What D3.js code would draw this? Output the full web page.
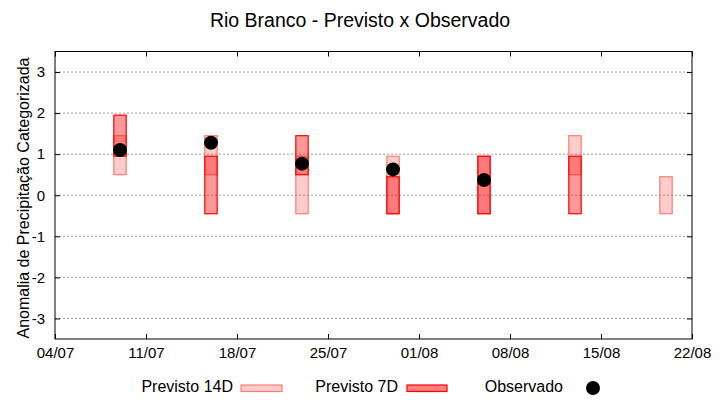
<!DOCTYPE html>
<html>
<head>
<meta charset="utf-8">
<script src="https://cdn.jsdelivr.net/npm/d3@7"></script>
<style>
  body { margin: 0; background: #fff; }
  svg { font-family: "Liberation Sans", Arial, sans-serif; }
</style>
</head>
<body>
<div id="chart"></div>
<script>
// semanas de previsao (dia/mes)
const weeks = ['09/07', '16/07', '23/07', '30/07', '06/08', '13/08', '20/08'];
const prev14Lo = [0.5, 0.5, -0.45, -0.45, -0.45, 0.5, -0.45];
const prev14Hi = [1.45, 1.45, 0.95, 0.95, 0.95, 1.45, 0.45];
const prev7Lo = [0.95, -0.45, 0.5, -0.45, -0.45, -0.45, null];
const prev7Hi = [1.95, 0.95, 1.45, 0.45, 0.95, 0.95, null];
const observed = [1.1, 1.28, 0.77, 0.63, 0.37, null, null];
const xTicks = ['04/07', '11/07', '18/07', '25/07', '01/08', '08/08', '15/08', '22/08'];
const yTicks = [-3, -2, -1, 0, 1, 2, 3];

const width = 720;
const height = 400;
const margin = { top: 51.5, right: 28, bottom: 61, left: 55 };
const parse = d3.timeParse('%d/%m');
const fmt = d3.timeFormat('%d/%m');

const svg = d3.select('#chart').append('svg')
  .attr('width', width)
  .attr('height', height);

const x = d3.scaleTime()
  .domain([parse(xTicks[0]), parse(xTicks[xTicks.length - 1])])
  .range([margin.left, width - margin.right]);
const y = d3.scaleLinear()
  .domain([-3.5, 3.5])
  .range([height - margin.bottom, margin.top]);

// grade horizontal
svg.append('g')
  .selectAll('line')
  .data(yTicks)
  .enter()
  .append('line')
  .attr('x1', margin.left)
  .attr('x2', width - margin.right)
  .attr('y1', d => y(d))
  .attr('y2', d => y(d))
  .attr('stroke', '#a0a0a0')
  .attr('stroke-width', 1)
  .attr('stroke-dasharray', '2,2');

const boxW = x(parse('02/01')) - x(parse('01/01'));
const boxes = weeks.map((w, i) => ({
  date: parse(w),
  lo14: prev14Lo[i], hi14: prev14Hi[i],
  lo7: prev7Lo[i], hi7: prev7Hi[i],
  obs: observed[i]
}));

svg.append('g')
  .selectAll('rect')
  .data(boxes)
  .enter()
  .append('rect')
  .attr('x', d => x(d.date) - boxW * 0.475)
  .attr('width', boxW * 0.95)
  .attr('y', d => y(d.hi14))
  .attr('height', d => y(d.lo14) - y(d.hi14))
  .attr('fill', 'rgba(255,0,0,0.2)')
  .attr('stroke', '#f88070')
  .attr('stroke-width', 1.2);

svg.append('g')
  .selectAll('rect')
  .data(boxes.filter(d => d.lo7 !== null))
  .enter()
  .append('rect')
  .attr('x', d => x(d.date) - boxW * 0.475)
  .attr('width', boxW * 0.95)
  .attr('y', d => y(d.hi7))
  .attr('height', d => y(d.lo7) - y(d.hi7))
  .attr('fill', 'rgba(255,0,0,0.4)')
  .attr('stroke', '#ff0000')
  .attr('stroke-width', 1.2);

svg.append('g')
  .selectAll('circle')
  .data(boxes.filter(d => d.obs !== null))
  .enter()
  .append('circle')
  .attr('cx', d => x(d.date))
  .attr('cy', d => y(d.obs))
  .attr('r', 7)
  .attr('fill', '#000');

// eixos
const tickDates = xTicks.map(parse);
const axisB = svg.append('g')
  .attr('transform', `translate(0,${height - margin.bottom})`)
  .call(d3.axisBottom(x).tickValues(tickDates).tickFormat(fmt).tickSize(-5).tickPadding(8));
const axisT = svg.append('g')
  .attr('transform', `translate(0,${margin.top})`)
  .call(d3.axisTop(x).tickValues(tickDates).tickFormat('').tickSize(-5));
const axisL = svg.append('g')
  .attr('transform', `translate(${margin.left},0)`)
  .call(d3.axisLeft(y).tickValues(yTicks).tickFormat(d => String(d)).tickSize(-5).tickPadding(10));
const axisR = svg.append('g')
  .attr('transform', `translate(${width - margin.right},0)`)
  .call(d3.axisRight(y).tickValues(yTicks).tickFormat('').tickSize(-5));

[axisB, axisT, axisL, axisR].forEach(a => {
  a.select('.domain').remove();
  a.selectAll('.tick line').attr('stroke', '#000');
  a.selectAll('text')
    .attr('fill', '#000')
    .style('font-size', '15px')
    .style('font-family', '"Liberation Sans", Arial, sans-serif');
});

svg.append('rect')
  .attr('x', margin.left)
  .attr('y', margin.top)
  .attr('width', width - margin.left - margin.right)
  .attr('height', height - margin.top - margin.bottom)
  .attr('fill', 'none')
  .attr('stroke', '#000')
  .attr('stroke-width', 1);

// titulos
svg.append('text')
  .attr('x', 360)
  .attr('y', 27)
  .attr('text-anchor', 'middle')
  .style('font-size', '19.5px')
  .text('Rio Branco - Previsto x Observado');

svg.append('text')
  .attr('transform', 'translate(29,198) rotate(-90)')
  .attr('text-anchor', 'middle')
  .style('font-size', '16px')
  .text('Anomalia de Precipitação Categorizada');

// legenda
const legY = 392;
const legend = svg.append('g');
legend.append('text').attr('x', 233).attr('y', legY).attr('text-anchor', 'end')
  .style('font-size', '16px').text('Previsto 14D');
legend.append('rect').attr('x', 241).attr('y', 385).attr('width', 41).attr('height', 6.5)
  .attr('fill', 'rgba(255,0,0,0.2)').attr('stroke', '#f88070').attr('stroke-width', 1.2);
legend.append('text').attr('x', 398).attr('y', legY).attr('text-anchor', 'end')
  .style('font-size', '16px').text('Previsto 7D');
legend.append('rect').attr('x', 407).attr('y', 385).attr('width', 40).attr('height', 6.5)
  .attr('fill', 'rgba(255,0,0,0.5)').attr('stroke', '#ff0000').attr('stroke-width', 1.2);
legend.append('text').attr('x', 563).attr('y', legY).attr('text-anchor', 'end')
  .style('font-size', '16px').text('Observado');
legend.append('circle').attr('cx', 593).attr('cy', 388).attr('r', 7).attr('fill', '#000');
</script>
</body>
</html>
